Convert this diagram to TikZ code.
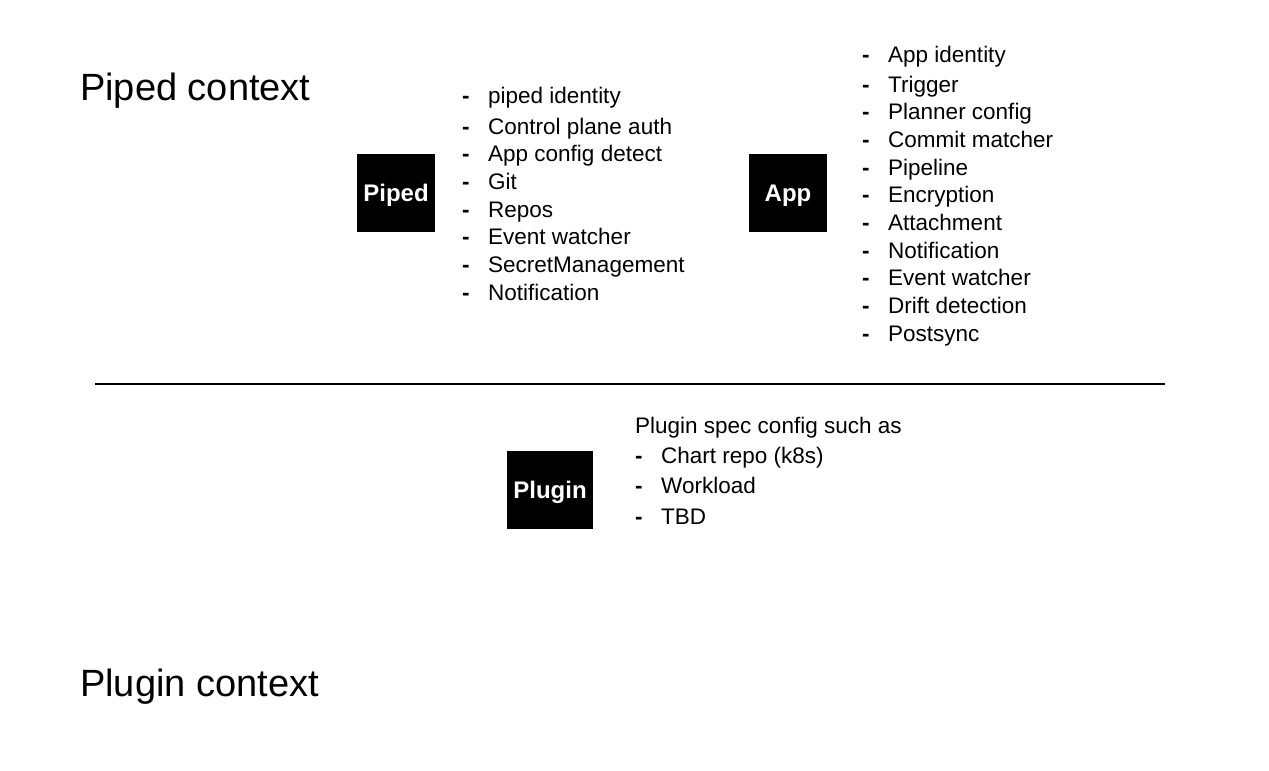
\documentclass[tikz,border=0pt]{standalone}
\usepackage{fontspec}
\setmainfont{Liberation Sans}
\usetikzlibrary{positioning}

\begin{document}
\begin{tikzpicture}[
      x=1pt,y=-1pt,
      title/.style={
         anchor=west,
         inner sep=0pt,
         font=\fontsize{38}{44}\selectfont
      },
      block/.style={
         rectangle,
         fill=black,
         inner sep=0pt,
         minimum height=78pt,
         text=white,
         text height=17pt,
         text depth=0pt,
         font=\bfseries\fontsize{24}{28}\selectfont
      },
      item/.style={
         anchor=west,
         inner sep=0pt,
         text height=16pt,
         text depth=4pt,
         font=\fontsize{22.5}{27}\selectfont
      },
      bullet/.style={item,font=\bfseries\fontsize{22.5}{27}\selectfont},
      sep line/.style={line width=1.5pt,draw=black}
    ]
    \useasboundingbox (0,0) rectangle (1269,771);

    % contexts
    \node (pipedctx) [title] at (80,91) {Piped context};
    \node (pluginctx) [title] at (80,687) {Plugin context};

    % blocks
    \node (piped) [block, minimum width=78pt] at (396,193) {Piped};
    \node (app) [block, minimum width=78pt] at (788,193) {App};
    \node (plugin) [block, minimum width=86pt] at (550,490) {Plugin};

    % piped config
    \foreach \txt [count=\i] in {piped identity, Control plane auth,
        App config detect, Git, Repos, Event watcher,
        SecretManagement, Notification} {
      \pgfmathsetmacro{\ypos}{\i==1 ? 97 : 128+(\i-2)*27.7}
      \node (pd\i) [bullet] at (462,\ypos) {-};
      \node (pi\i) [item] at (488,\ypos) {\txt};
    }

    % app config
    \foreach \txt [count=\i] in {App identity, Trigger, Planner config,
        Commit matcher, Pipeline, Encryption, Attachment, Notification,
        Event watcher, Drift detection, Postsync} {
      \pgfmathsetmacro{\ypos}{\i==1 ? 56 : 86+(\i-2)*27.7}
      \node (ad\i) [bullet] at (862,\ypos) {-};
      \node (ai\i) [item] at (888,\ypos) {\txt};
    }

    % separator
    \coordinate (sepl) at (95,384);
    \coordinate (sepr) at (1165,384);
    \draw [sep line] (sepl) -- (sepr);

    % plugin config
    \node (plhead) [item] at (635,427) {Plugin spec config such as};
    \foreach \txt [count=\i] in {Chart repo (k8s), Workload, TBD} {
      \pgfmathsetmacro{\ypos}{457+(\i-1)*30.5}
      \node (gd\i) [bullet] at (635,\ypos) {-};
      \node (gi\i) [item] at (661,\ypos) {\txt};
    }
\end{tikzpicture}
\end{document}
